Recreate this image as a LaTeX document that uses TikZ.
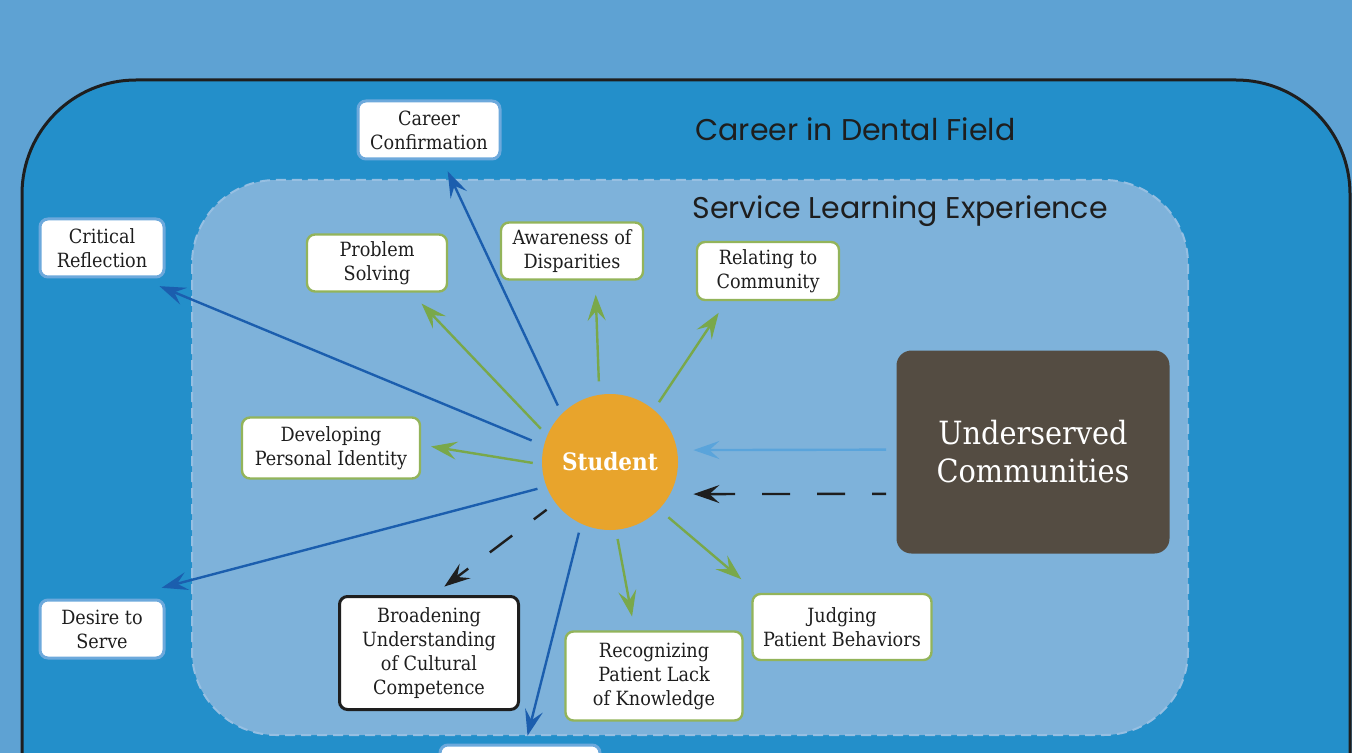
\documentclass[tikz,border=0pt]{standalone}
\usepackage{fontspec}
\setmainfont{DejaVu Serif Condensed}
\newfontfamily\titlefont{Poppins}
\usetikzlibrary{arrows.meta,positioning}

\definecolor{bgblue}{HTML}{5EA2D3}
\definecolor{careerblue}{HTML}{238FCA}
\definecolor{serviceblue}{HTML}{7EB2DA}
\definecolor{servicedash}{HTML}{96BFE2}
\definecolor{darkline}{HTML}{1E1E1E}
\definecolor{arrowblue}{HTML}{1B5EAE}
\definecolor{arrowgreen}{HTML}{79A84A}
\definecolor{boxgreen}{HTML}{93B45A}
\definecolor{boxblue}{HTML}{6DA9DC}
\definecolor{studentorange}{HTML}{E8A42C}
\definecolor{communitybrown}{HTML}{544C42}
\definecolor{paleblue}{HTML}{5AA4DB}

\begin{document}
\begin{tikzpicture}[x=0.5pt,y=-0.5pt,>={Stealth[length=13pt,width=9pt,inset=5pt]}]
  \tikzstyle{label box}=[draw,fill=white,rounded corners=4pt,align=center,
    inner sep=1pt,font=\fontsize{9.8}{12}\selectfont,text=darkline]
  \tikzstyle{green box}=[label box,draw=boxgreen,line width=1.2pt]
  \tikzstyle{blue box}=[label box,draw=boxblue,line width=1.5pt]
  \tikzstyle{black box}=[label box,draw=darkline,line width=1.5pt]
  \tikzstyle{title}=[anchor=west,inner sep=0pt,font=\titlefont\fontsize{15}{18}\selectfont,text=darkline]
  \tikzstyle{ray}=[->,line width=1.2pt,shorten <=4.5pt]
  \tikzstyle{blue ray}=[ray,draw=arrowblue]
  \tikzstyle{green ray}=[ray,draw=arrowgreen]
  \tikzstyle{dark ray}=[ray,draw=darkline,dash pattern=on 14pt off 13.5pt,dash phase=6pt]

  \clip (0,0) rectangle (1352,753);
  \fill[bgblue] (0,0) rectangle (1352,753);
  \draw[darkline,line width=1.5pt,fill=careerblue,rounded corners=57pt]
    (22,80) rectangle (1350,900);
  \draw[servicedash,line width=1pt,dash pattern=on 5pt off 3pt,fill=serviceblue,
    rounded corners=42pt] (192,180) rectangle (1188,735);

  \node[title] (career title)  at (695,129) {Career in Dental Field};
  \node[title] (service title) at (692,211) {Service Learning Experience};

  \node[circle,fill=studentorange,minimum size=68pt,text=white,
    font=\fontsize{12}{14}\bfseries] (student) at (610,462) {Student};
  \node[fill=communitybrown,rounded corners=7.5pt,minimum width=136.5pt,
    minimum height=101.5pt,align=center,text=white,
    font=\fontsize{16}{19}\selectfont] (under) at (1033,452)
    {Underserved\\Communities};

  \node[blue box,minimum width=71pt,minimum height=29pt]    (career)      at (429,130) {Career\\Confirmation};
  \node[blue box,minimum width=62pt,minimum height=29pt]    (critical)    at (102,248) {Critical\\Reflection};
  \node[blue box,minimum width=62pt,minimum height=29pt]    (desire)      at (102,629) {Desire to\\Serve};
  \node[blue box,minimum width=80pt,minimum height=30pt]    (bottom)      at (520,775) {};
  \node[green box,minimum width=70pt,minimum height=28.5pt] (problem)     at (377,263) {Problem\\Solving};
  \node[green box,minimum width=71pt,minimum height=28.5pt] (aware)       at (572,251) {Awareness of\\Disparities};
  \node[green box,minimum width=71pt,minimum height=29pt]   (relating)    at (768,271) {Relating to\\Community};
  \node[green box,minimum width=89pt,minimum height=30.5pt] (developing)  at (331,448) {Developing\\Personal Identity};
  \node[green box,minimum width=88.5pt,minimum height=44.5pt] (recognizing) at (654,676) {Recognizing\\Patient Lack\\of Knowledge};
  \node[green box,minimum width=89.5pt,minimum height=33pt] (judging)     at (842,627) {Judging\\Patient Behaviors};
  \node[black box,minimum width=89.5pt,minimum height=56.5pt] (broadening) at (429,653) {Broadening\\Understanding\\of Cultural\\Competence};

  % rays out of the student
  \draw[blue ray,shorten >=6pt]    (student.135) -- (career.-66);
  \draw[blue ray,shorten <=6.5pt,shorten >=10pt] (student.166) -- (critical.-38);
  \draw[blue ray,shorten >=21pt]   (student.201) -- (desire.58);
  \draw[blue ray,shorten >=4pt]    (student.245) -- (bottom.80);
  \draw[green ray,shorten >=7.5pt] (student.157) -- (problem.-41);
  \draw[green ray,shorten <=6.5pt,shorten >=7pt] (student.99) -- (aware.-52);
  \draw[green ray,shorten >=7pt]   (student.50)  -- (relating.-144);
  \draw[green ray,shorten >=5pt]   (student.182) -- (developing.2);
  \draw[green ray,shorten >=7pt]   (student.275) -- (recognizing.113);
  \draw[green ray,shorten <=6pt,shorten >=10.5pt] (student.316) -- (judging.158);
  \draw[dark ray,shorten <=5.5pt,shorten >=7pt] (student.217) -- (broadening.86);

  % community into the student
  \draw[ray,draw=paleblue,shorten <=5pt,shorten >=8pt] (under.179) -- (student.10);
  \draw[dark ray,shorten <=5pt,shorten >=11.5pt,dash phase=7pt] (under.197) -- (student.-28);
\end{tikzpicture}
\end{document}
